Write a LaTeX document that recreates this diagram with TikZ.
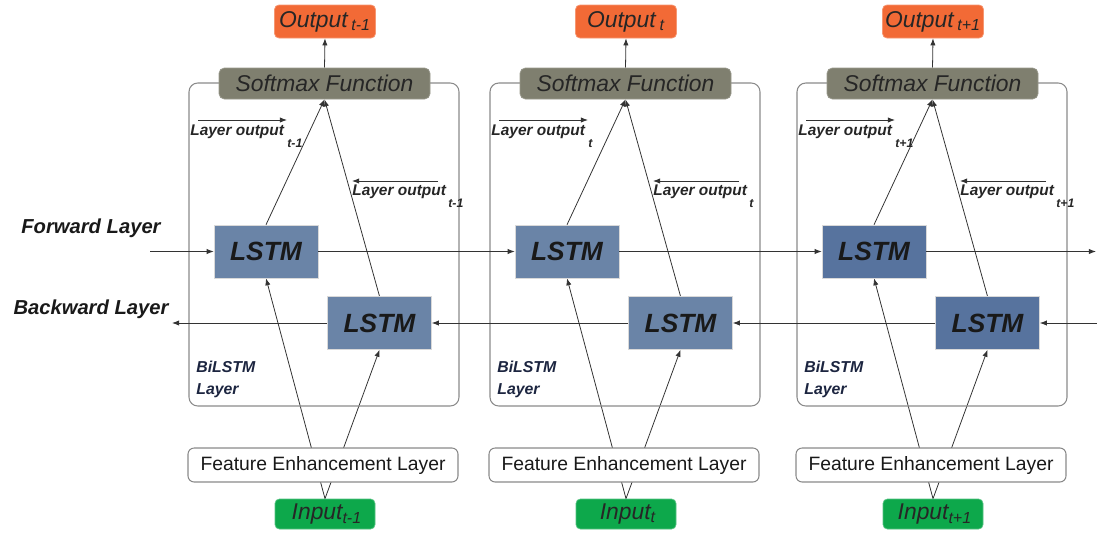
\documentclass[tikz,border=0pt]{standalone}
\usepackage{fontspec}
\setmainfont{Liberation Sans}
\usetikzlibrary{arrows.meta,calc}
\pgfdeclarelayer{bg}
\pgfsetlayers{bg,main}
\definecolor{outc}{HTML}{F26A36}
\definecolor{smc}{HTML}{7F7F6F}
\definecolor{inc}{HTML}{0DA84B}
\definecolor{lstma}{HTML}{6A84A7}
\definecolor{lstmc}{HTML}{57739E}
\definecolor{contc}{HTML}{8A8A8A}
\definecolor{linec}{HTML}{333333}
\definecolor{navy}{HTML}{1C2540}
\newcommand\onecol[4]{%
  \node[contbox] (cont#4) at (324+#1,244.5) {};
  \node[smbox] (sm#4) at (324.5+#1,83.5) {Softmax Function};
  \node[outbox] (out#4) at (325+#1,21.5) {Output\,\textsubscript{#2}};
  \node[lstmbox, fill=#3] (lf#4) at (266+#1,251.5) {LSTM};
  \node[lstmbox, fill=#3] (lb#4) at (379.5+#1,323) {LSTM};
  \node[febox] (fe#4) at (323+#1,465) {Feature Enhancement Layer};
  \node[inbox] (in#4) at (325+#1,514) {\,Input\textsubscript{#2}};
  \node[lotext, anchor=base west] (lot#4) at (190+#1,135) {Layer output};
  \node[losub, anchor=base west] (los#4) at (287+#1,147) {#2};
  \coordinate (lofs#4) at (198+#1,120);
  \coordinate (lofe#4) at (287+#1,120);
  \node[lotext, anchor=base west] (lbt#4) at (352+#1,195) {Layer output};
  \node[losub, anchor=base west] (lbs#4) at (448+#1,207) {#2};
  \coordinate (lobs#4) at (438+#1,181);
  \coordinate (lobe#4) at (352+#1,181);
  \node[bitext, anchor=north west] (bi#4) at (196+#1,361) {BiLSTM\\Layer};
  \draw[arr] (lofs#4) -- (lofe#4);
  \draw[arr] (lobs#4) -- (lobe#4);
  \begin{pgfonlayer}{bg}
    \draw[conn] (in#4.north) -- (lf#4.south);
    \draw[conn] (in#4.north) -- (lb#4.south);
    \draw[conn] (lf#4.north) -- (sm#4.south);
    \draw[conn] (lb#4.north) -- (sm#4.south);
    \draw[conn] (sm#4.north) -- (out#4.south);
  \end{pgfonlayer}
}
\begin{document}
\begin{tikzpicture}[x=0.02cm,y=-0.02cm,
  contbox/.style={draw=contc, line width=0.6pt, rounded corners=5pt,
    minimum width={270*0.02cm}, minimum height={323*0.02cm}, inner sep=0pt},
  smbox/.style={fill=smc, draw=smc!80!white, rounded corners=3pt,
    minimum width={211*0.02cm}, minimum height={31*0.02cm}, inner sep=0pt,
    font=\itshape\fontsize{13}{15}\selectfont, text=black!85},
  outbox/.style={fill=outc, draw=outc!70!white, rounded corners=2.5pt,
    minimum width={101*0.02cm}, minimum height={33*0.02cm}, inner sep=0pt,
    font=\itshape\fontsize{13}{15}\selectfont, text=black!85},
  inbox/.style={fill=inc, draw=inc!70!white, rounded corners=2.5pt,
    minimum width={100*0.02cm}, minimum height={30*0.02cm}, inner sep=0pt,
    font=\itshape\fontsize{13}{15}\selectfont, text=black!85},
  lstmbox/.style={draw=white!85!black, line width=0.3pt,
    minimum width={104*0.02cm}, minimum height={53*0.02cm}, inner sep=0pt,
    font=\bfseries\itshape\fontsize{15}{17}\selectfont, text=black!90},
  febox/.style={fill=white, draw=contc, line width=0.6pt, rounded corners=3.5pt,
    minimum width={270*0.02cm}, minimum height={34*0.02cm}, inner sep=0pt,
    font=\fontsize{11}{13}\selectfont, text=black!90},
  lotext/.style={inner sep=0pt, font=\bfseries\itshape\fontsize{8.8}{10}\selectfont, text=black!85},
  losub/.style={inner sep=0pt, font=\bfseries\itshape\fontsize{7}{8}\selectfont, text=black!85},
  bitext/.style={inner sep=0pt, align=left, font=\bfseries\itshape\fontsize{9}{12.5}\selectfont, text=navy},
  sidetext/.style={inner sep=0pt, font=\bfseries\itshape\fontsize{11.5}{13}\selectfont, text=black!90},
  arr/.style={draw=linec, line width=0.5pt, -{Latex[length=4pt,width=3pt]}},
  conn/.style={draw=linec, line width=0.45pt, -{Latex[length=4pt,width=3pt]}},
  plain/.style={draw=linec, line width=0.45pt}
]
\useasboundingbox (0,0) rectangle (1097,534);
\onecol{0}{t-1}{lstma}{a}
\onecol{301}{t}{lstma}{b}
\onecol{608}{t+1}{lstmc}{c}
% in-box plain lines (input -> lstm drawn without tip handled above)
\node[sidetext] (fwdl) at (91,228) {Forward Layer};
\node[sidetext] (bwdl) at (91,309) {Backward Layer};
\coordinate (fin) at (150,251.5);
\coordinate (fout) at (1096,251.5);
\coordinate (bin) at (1097,323);
\coordinate (bout) at (172,323);
\draw[arr] (fin) -- (lfa.west);
\draw[arr] (lfa.east) -- (lfb.west);
\draw[arr] (lfb.east) -- (lfc.west);
\draw[arr] (lfc.east) -- (fout);
\draw[arr] (bin) -- (lbc.east);
\draw[arr] (lbc.west) -- (lbb.east);
\draw[arr] (lbb.west) -- (lba.east);
\draw[arr] (lba.west) -- (bout);
\end{tikzpicture}
\end{document}
